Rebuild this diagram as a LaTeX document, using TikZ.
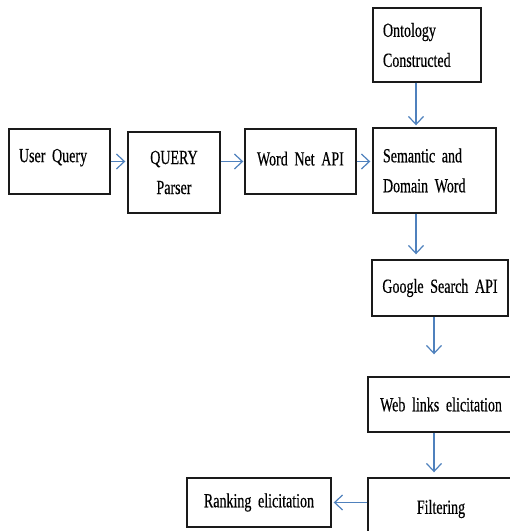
\documentclass[tikz,border=0pt]{standalone}
\usepackage{fontspec}
\setmainfont{Liberation Serif}[FakeStretch=0.7, FakeBold=0.4]
\usepackage{tikz}
\usetikzlibrary{arrows.meta,positioning,calc}
\definecolor{flowBlue}{HTML}{4F81BD}
\definecolor{boxLine}{HTML}{1A1A1A}
\newcommand{\etapafont}{\fontsize{20}{30}\selectfont\fontdimen2\font=3pt\relax}
\tikzset{
  etapa/.style={draw=boxLine, line width=1.4pt, align=#1, font=\etapafont, inner xsep=0pt, inner ysep=2pt},
  etapa/.default=center,
  arrflow/.style={draw=flowBlue, line width=1.2pt, -{Straight Barb[length=8pt, width=15pt]}},
}
\begin{document}
\begin{tikzpicture}[x=1pt, y=1pt]
\useasboundingbox (0,0) rectangle (510,531);
\clip (0,0) rectangle (510,531);

% first row
\node[etapa=left, text width=81pt, minimum width=101pt, minimum height=65pt] (user) at (59.5,369.5) {\raisebox{12pt}{User Query}};
\node[etapa, text width=80pt, minimum width=92pt, minimum height=81pt] (parser) at (174,358.5) {QUERY\\Parser};
\node[etapa=left, text width=87pt, minimum width=111pt, minimum height=65pt] (wordnet) at (300.5,369.5) {\raisebox{6pt}{Word Net API}};
\node[etapa=left, text width=103pt, minimum width=123pt, minimum height=85pt] (semantic) at (434.5,360.5) {Semantic and\\Domain Word};
\node[etapa=left, text width=88pt, minimum width=108pt, minimum height=74pt] (ontology) at (427,486) {Ontology\\Constructed};

% column going down
\node[etapa, text width=130pt, minimum width=136pt, minimum height=56pt] (google) at (440,243) {Google Search API};
\node[etapa, text width=140pt, minimum width=146pt, minimum height=55pt] (weblinks) at (441,126.5) {Web links elicitation};
\node[etapa, text width=140pt, minimum width=146pt, minimum height=62pt] (filtering) at (441,22) {Filtering};
\node[etapa, text width=136pt, minimum width=144pt, minimum height=49pt] (ranking) at (259,28.5) {Ranking elicitation};

% arrows
\draw[arrflow, shorten >=2pt] (user.east) -- (parser.west |- user.east);
\draw[arrflow, shorten >=1pt] (parser.east |- wordnet.west) -- (wordnet.west);
\draw[arrflow, shorten >=2pt] (wordnet.east) -- (semantic.west |- wordnet.east);
\draw[arrflow, shorten >=2pt] ([xshift=-11pt]ontology.south) -- ([xshift=-11pt]ontology.south |- semantic.north);
\draw[arrflow, shorten >=5pt] ([xshift=-18.5pt]semantic.south) -- ([xshift=-18.5pt]semantic.south |- google.north);
\draw[arrflow, shorten >=22pt] ([xshift=-6pt]google.south) -- ([xshift=-6pt]google.south |- weblinks.north);
\draw[arrflow, shorten >=5pt] ([xshift=-7pt]weblinks.south) -- ([xshift=-7pt]weblinks.south |- filtering.north);
\draw[arrflow, shorten >=2pt] (filtering.west |- ranking.east) -- (ranking.east);
\end{tikzpicture}
\end{document}
